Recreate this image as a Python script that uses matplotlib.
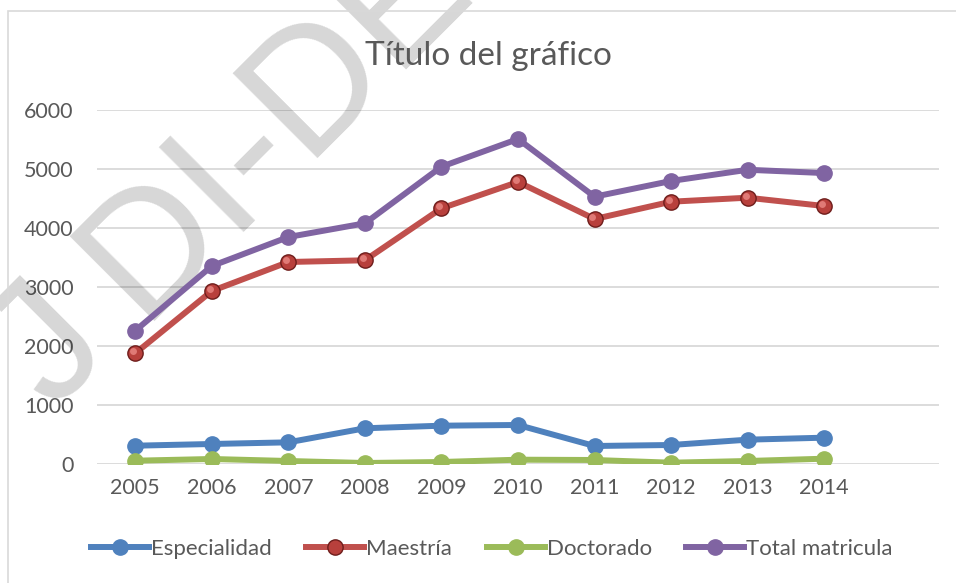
import matplotlib
matplotlib.use("Agg")
import matplotlib.pyplot as plt
from matplotlib.patches import Rectangle
from matplotlib.lines import Line2D
import matplotlib.transforms as mtransforms

years = ["2005", "2006", "2007", "2008", "2009", "2010", "2011", "2012", "2013", "2014"]
especialidad = [315, 344, 372, 610, 654, 666, 310, 327, 417, 451]
maestria = [1880, 2935, 3426, 3455, 4335, 4781, 4154, 4447, 4515, 4374]
doctorado = [61, 90, 56, 22, 39, 78, 73, 27, 56, 95]
total = [2263, 3358, 3849, 4081, 5040, 5509, 4532, 4798, 4988, 4932]
series_names = ["Especialidad", "Maestría", "Doctorado", "Total matricula"]
title = "Título del gráfico"
watermark_parts = ["J", "DI-DE"]

FONT = ["Lato", "DejaVu Sans"]
plt.rcParams['font.family'] = FONT
TXT = "#595959"

fig = plt.figure(figsize=(9.56, 5.83), dpi=100)
fig.patch.set_facecolor("white")

# chart border
fig.patches.append(Rectangle((8 / 956, -0.1), 1.2, 1 - 11 / 583 + 0.1, transform=fig.transFigure,
                             fill=False, edgecolor="#d9d9d9", linewidth=1.2, zorder=0))

ax = fig.add_axes([97 / 956, 1 - 464.3 / 583, (939 - 97) / 956, (464.3 - 110) / 583])
ax.patch.set_alpha(0)
x = list(range(len(years)))

ax.set_xlim(-0.5, len(years) + 0.5)
ax.set_ylim(0, 6000)
ax.set_yticks(range(0, 6001, 1000))
ax.set_xticks(x)
ax.set_xticklabels(years)
ax.tick_params(axis="both", length=0, labelsize=15.5, colors=TXT)
ax.tick_params(axis="x", pad=10)
ax.tick_params(axis="y", pad=17)
ax.grid(axis="y", color="#d9d9d9", linewidth=1.3, zorder=0)
ax.set_axisbelow(True)
for s in ax.spines.values():
    s.set_visible(False)

# watermark (diagonal, semi-transparent)
wm_pos = [(-0.0538, 0.1524), (0.0525, 0.405)]
for part, (wx, wy) in zip(watermark_parts, wm_pos):
    ax.text(wx, wy, part, transform=ax.transAxes, rotation=45, rotation_mode="anchor",
            ha="left", va="baseline", fontsize=125, family=["Liberation Sans", "DejaVu Sans"],
            color="black", alpha=0.16, zorder=1, clip_on=False)

lw = 4.3
ms = 11
ax.plot(x, especialidad, color="#4F81BD", lw=lw, marker="o", ms=ms, zorder=3)
ax.plot(x, doctorado, color="#9BBB59", lw=lw, marker="o", ms=ms, zorder=3)
ax.plot(x, maestria, color="#C0504D", lw=lw, marker="o", ms=ms, markerfacecolor="#B8403C",
        markeredgecolor="#6e1d1b", markeredgewidth=1.0, zorder=3)
hl = mtransforms.offset_copy(ax.transData, fig=fig, x=-1.5, y=1.5, units="points")
ax.plot(x, maestria, linestyle="none", marker="o", ms=5, markerfacecolor="#E07A76",
        markeredgewidth=0, transform=hl, zorder=4)
ax.plot(x, total, color="#8064A2", lw=lw, marker="o", ms=ms, zorder=3)

fig.text(488 / 956, 1 - 56 / 583, title, ha="center", va="center", fontsize=24, color=TXT)

handles = [
    Line2D([], [], color="#4F81BD", lw=lw, marker="o", ms=ms),
    Line2D([], [], color="#C0504D", lw=lw, marker="o", ms=ms, markerfacecolor="#B8403C",
           markeredgecolor="#6e1d1b"),
    Line2D([], [], color="#9BBB59", lw=lw, marker="o", ms=ms),
    Line2D([], [], color="#8064A2", lw=lw, marker="o", ms=ms),
]
fig.legend(handles, series_names, loc="center", bbox_to_anchor=(492 / 956, 1 - 549 / 583),
           ncol=4, frameon=False, fontsize=16, labelcolor=TXT, handlelength=2.6,
           handletextpad=0.1, columnspacing=1.55, borderaxespad=0)

fig.savefig("out.png", dpi=100, facecolor="white")
